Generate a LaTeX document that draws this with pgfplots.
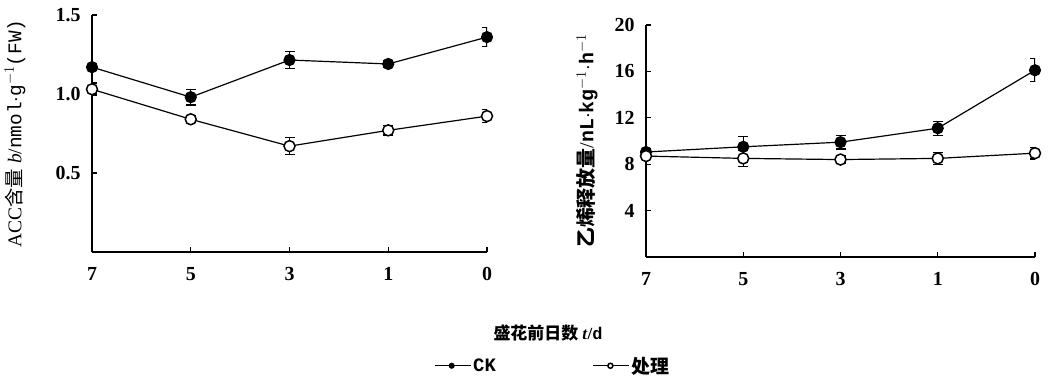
\documentclass[border=0pt]{standalone}
\usepackage{pgfplots}
\pgfplotsset{compat=1.18}
\usepackage{fontspec}
\setmainfont{Liberation Serif}
\newfontfamily\mono{Liberation Mono}
\newfontfamily\cjk{Noto Sans CJK SC}
\begin{document}
\begin{tikzpicture}
\useasboundingbox (0bp,0bp) rectangle (1050bp,379bp);
\pgfplotsset{
  common/.style={
    scale only axis,
    axis lines*=left,
    axis line style={line width=1.5pt,-},
    tick align=inside,
    major tick length=5bp,
    tick style={line width=1.2pt,black},
    xmin=0, xmax=4, ymin=0,
    xtick={0,1,2,3,4}, xticklabels={7,5,3,1,0},
    ticklabel style={font=\bfseries\fontsize{20}{20}\selectfont},
    /pgf/number format/assume math mode=true,
    xticklabel style={yshift=-12bp},
    yticklabel style={xshift=-8bp},
    error bars/error bar style={line width=1.3pt},
    error bars/error mark options={rotate=90, mark size=5bp, line width=1.3pt},
  },
  ck/.style={black, line width=1.2pt, mark=*, mark size=5.5bp, mark options={fill=black},
     error bars/.cd, y dir=both, y explicit},
  tr/.style={black, line width=1.2pt, mark=*, mark size=5.5bp, mark options={fill=white, line width=1.5pt},
     error bars/.cd, y dir=both, y explicit},
}
\begin{axis}[common,
  at={(92bp,127bp)}, anchor=south west,
  width=395bp, height=237bp,
  ymax=1.5, ytick={0.5,1.0,1.5},
  yticklabel style={/pgf/number format/.cd, fixed, fixed zerofill, precision=1},
  ylabel={ACC{\cjk 含量} \textit{b}/{\mono nmol$\cdot$g}$^{-1}${\mono (FW)}},
  ylabel style={font=\fontsize{19.5}{19.5}\selectfont, anchor=center, at={(axis description cs:-0.195,0.5)}},
  legend style={at={(axis description cs:1.167,-0.48)}, anchor=center, draw=none,
     font=\fontsize{19}{19}\selectfont,
     /tikz/every even column/.append style={column sep=95bp}},
  legend columns=2,
  legend image code/.code={\draw[mark repeat=2,mark phase=2,#1] plot coordinates {(0bp,0bp)(17bp,0bp)(36bp,0bp)};},
  legend image post style={mark size=2.5bp, line width=1pt},
]
\addplot+[ck] coordinates {
 (0,1.17) +- (0,0.02)
 (1,0.98) +- (0,0.05)
 (2,1.215) +- (0,0.055)
 (3,1.19) +- (0,0.02)
 (4,1.36) +- (0,0.06)
};
\addlegendentry{\mono\bfseries CK}
\addplot+[tr] coordinates {
 (0,1.03) +- (0,0.04)
 (1,0.84) +- (0,0.02)
 (2,0.67) +- (0,0.055)
 (3,0.77) +- (0,0.03)
 (4,0.86) +- (0,0.04)
};
\addlegendentry{{\cjk\bfseries 处理}}
\end{axis}
\begin{axis}[common,
  at={(646bp,122bp)}, anchor=south west,
  width=389bp, height=232bp,
  ymax=20, ytick={4,8,12,16,20},
  ylabel={{\cjk\bfseries 乙烯释放量}/{\mono\bfseries nL$\cdot$kg}$^{-1}$$\cdot${\mono\bfseries h}$^{-1}$},
  ylabel style={font=\fontsize{20}{20}\selectfont, anchor=center, at={(axis description cs:-0.152,0.5)}},
]
\addplot+[ck] coordinates {
 (0,9.05) +- (0,0.3)
 (1,9.5) +- (0,0.9)
 (2,9.9) +- (0,0.6)
 (3,11.1) +- (0,0.6)
 (4,16.1) +- (0,1.0)
};
\addplot+[tr] coordinates {
 (0,8.7) +- (0,0.3)
 (1,8.5) +- (0,0.7)
 (2,8.4) +- (0,0.3)
 (3,8.5) +- (0,0.5)
 (4,8.95) +- (0,0.5)
};
\end{axis}
\node[font=\bfseries\fontsize{17}{17}\selectfont] at (548bp,46bp) {{\cjk 盛花前日数} \textit{t}/{\mono d}};
\end{tikzpicture}
\end{document}
